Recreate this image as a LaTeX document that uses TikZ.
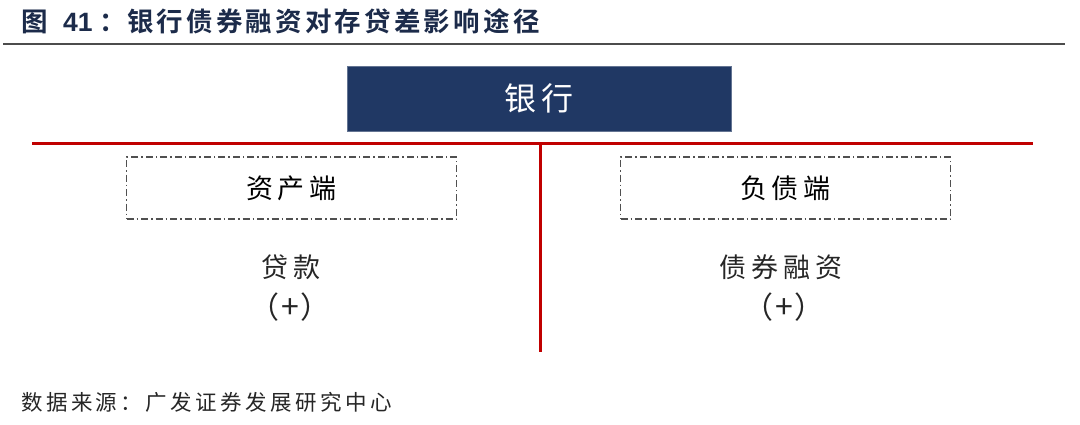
\documentclass[tikz,border=0pt]{standalone}
\usepackage{fontspec}
\newfontfamily\cjk{Noto Sans CJK SC}
\newfontfamily\cjksp[LetterSpace=18]{Noto Sans CJK SC}
\newfontfamily\cjksrc[LetterSpace=16]{Noto Sans CJK SC}
\newfontfamily\cjkb[LetterSpace=12]{Noto Sans CJK SC Bold}
\newfontfamily\arialb{Liberation Sans Bold}
\definecolor{navy}{HTML}{203864}
\definecolor{titlec}{HTML}{1C2B4A}
\definecolor{redline}{HTML}{C00000}
\definecolor{dashc}{HTML}{505050}
\tikzset{
  sidebox/.style={draw=dashc, line width=1.1pt, dash pattern=on 7pt off 3pt on 1.5pt off 3pt, minimum width=330pt, minimum height=62pt, inner sep=0pt},
  redrule/.style={draw=redline, line width=3pt},
  lbl/.style={inner sep=0pt, text=black!85},
}
\newcommand{\plusmark}{{\fontsize{30}{34}\selectfont\cjk （}\hspace{2pt}{\fontsize{32}{34}\selectfont\cjk +}\hspace{2pt}{\fontsize{30}{34}\selectfont\cjk ）}}
\begin{document}
\begin{tikzpicture}[x=1pt,y=-1pt]
\useasboundingbox (0,0) rectangle (1080,424);
% title
\node[anchor=west, inner sep=0pt, text=titlec] (title) at (21,21)
  {\fontsize{26.5}{30}\selectfont\cjkb \makebox[42pt][l]{图}\makebox[36pt][l]{\arialb 41}\makebox[28pt][l]{：}银行债券融资对存贷差影响途径};
\draw[draw=black!70, line width=2pt] (3,44) coordinate (tl) -- (1065,44) coordinate (tr);
% bank box
\node[fill=navy, draw=navy!70, line width=0.6pt, minimum width=384pt, minimum height=65pt, inner sep=0pt, text=white] (bank) at (539,98.5)
  {\fontsize{32}{36}\selectfont\cjksp 银行};
% red lines
\coordinate (hl) at (32,143);
\coordinate (hr) at (1033,143);
\coordinate (vt) at (540,143);
\coordinate (vb) at (540,352);
\draw[redrule] (hl) -- (hr);
\draw[redrule] (vt) -- (vb);
% side boxes
\node[sidebox] (asset) at (291.5,188) {\fontsize{27}{30}\selectfont\cjksp 资产端};
\node[sidebox] (liab) at (785.5,188) {\fontsize{27}{30}\selectfont\cjksp 负债端};
% items
\node[lbl] (loan) at (291,267) {\fontsize{27}{30}\selectfont\cjksp 贷款};
\node[lbl] (loanp) at (290,307) {\plusmark};
\node[lbl] (bond) at (781,267) {\fontsize{27}{30}\selectfont\cjksp 债券融资};
\node[lbl] (bondp) at (784,307) {\plusmark};
% source
\node[anchor=west, inner sep=0pt, text=black!85] (src) at (21,402)
  {\fontsize{21.5}{25}\selectfont\cjksrc 数据来源：广发证券发展研究中心};
\end{tikzpicture}
\end{document}
